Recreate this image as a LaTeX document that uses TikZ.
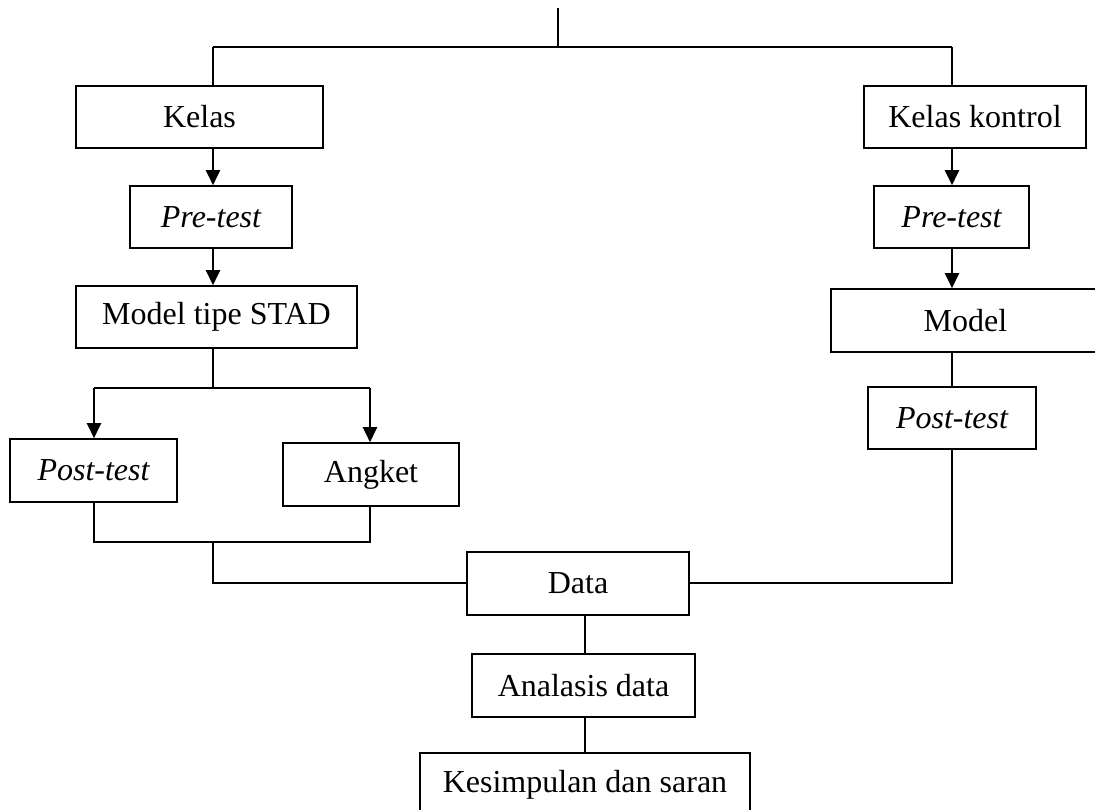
\documentclass[tikz,border=0pt]{standalone}
\usepackage{fontspec}
\setmainfont{Liberation Serif}
\usetikzlibrary{arrows.meta}
\begin{document}
\begin{tikzpicture}[x=1pt,y=-1pt,
  box/.style={draw,line width=1.6pt,inner sep=0pt,font=\fontsize{32}{38}\selectfont},
  link/.style={line width=1.4pt},
  arr/.style={line width=2.2pt,-{Triangle[width=14pt,length=15pt]}}]
\useasboundingbox (0,0) rectangle (1095,810);
\clip (0,0) rectangle (1095,810);
% nodes (centre, width, height)
\node[box,minimum width=247pt,minimum height=62pt] (kelas) at (199.5,117) {Kelas};
\node[box,minimum width=162pt,minimum height=62pt] (pre1) at (211,217) {\itshape Pre-test};
\node[box,minimum width=281pt,minimum height=62pt] (stad) at (216.5,317) {Model tipe STAD};
\node[box,minimum width=167pt,minimum height=63pt] (post1) at (93.5,470.5) {\itshape Post-test};
\node[box,minimum width=176pt,minimum height=63pt] (angket) at (371,474.5) {Angket};
\node[box,minimum width=222pt,minimum height=63pt] (data) at (578,583.5) {Data};
\node[box,minimum width=223pt,minimum height=63pt] (anal) at (583.5,685.5) {Analasis data};
\node[box,minimum width=330pt,minimum height=64pt] (kes) at (585,785) {Kesimpulan dan saran};
\node[box,minimum width=222pt,minimum height=62pt] (kk) at (975,117) {Kelas kontrol};
\node[box,minimum width=155pt,minimum height=62pt] (pre2) at (951.5,217) {\itshape Pre-test};
\node[box,minimum width=269pt,minimum height=63pt] (model) at (965.5,320.5) {Model};
\node[box,minimum width=168pt,minimum height=62pt] (post2) at (952,418) {\itshape Post-test};
% helper coordinates
\coordinate (top) at (558,8);
\coordinate (tj) at (558,47);
\coordinate (lx) at (213,47);
\coordinate (rx) at (952,47);
\coordinate (br) at (213,388);
\coordinate (bl) at (94,388);
\coordinate (bra) at (370,388);
\coordinate (jl) at (94,542);
\coordinate (jr) at (370,542);
\coordinate (jm) at (213,542);
\coordinate (dl) at (213,583);
\coordinate (dr) at (952,583);
% connectors
\draw[link] (top) -- (tj);
\draw[link] (lx) -- (rx);
\draw[link] (lx) -- (kelas.north -| lx);
\draw[link] (rx) -- (kk.north -| rx);
\draw[arr] (kelas.south -| lx) -- (pre1.north -| lx);
\draw[arr] (pre1.south -| lx) -- (stad.north -| lx);
\draw[link] (stad.south -| br) -- (br);
\draw[link] (bl) -- (bra);
\draw[arr] (bl) -- (post1.north -| bl);
\draw[arr] (bra) -- (angket.north -| bra);
\draw[link] (post1.south -| jl) -- (jl) -- (jr) -- (angket.south -| jr);
\draw[link] (jm) -- (dl) -- (data.west |- dl);
\draw[link] (data.east |- dr) -- (dr) -- (post2.south -| dr);
\draw[arr] (kk.south -| rx) -- (pre2.north -| rx);
\draw[arr] (pre2.south -| rx) -- (model.north -| rx);
\draw[link] (model.south -| rx) -- (post2.north -| rx);
\draw[link] (data.south -| 585,0) -- (anal.north -| 585,0);
\draw[link] (anal.south -| 585,0) -- (kes.north -| 585,0);
\end{tikzpicture}
\end{document}
